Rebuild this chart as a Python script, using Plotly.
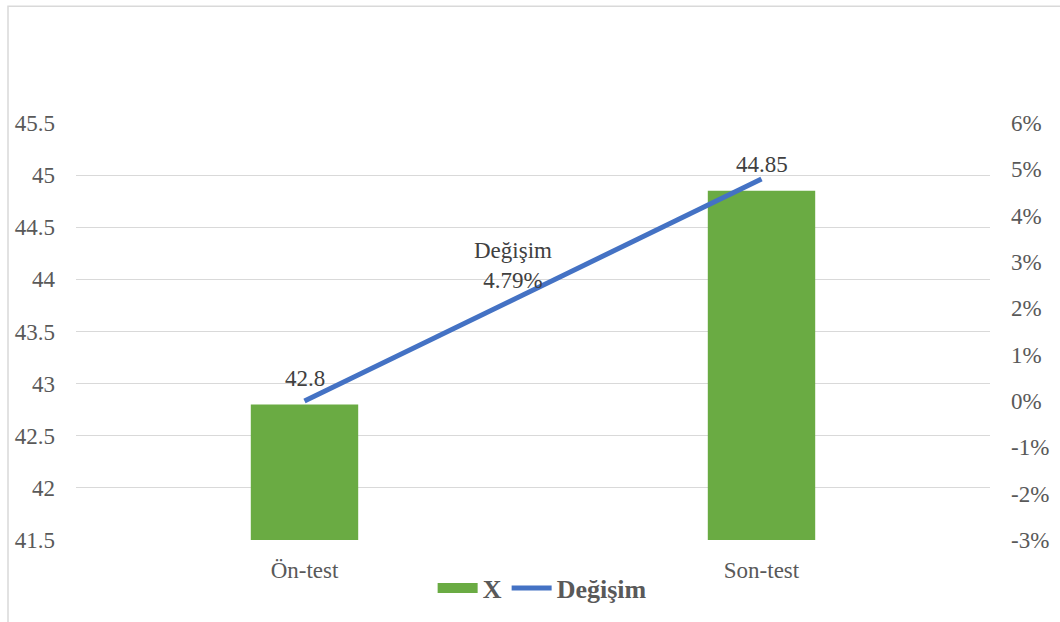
import plotly.graph_objects as go

# Test stages and their mean scores
categories = ["Ön-test", "Son-test"]
scores = [42.8, 44.85]
# Relative change (fraction) compared with the pre-test
change = [0.0, 0.0479]
change_label = "Değişim"

# Right-hand axis ticks (percent), written with a plain hyphen for negatives
pct_ticks = [-3, -2, -1, 0, 1, 2, 3, 4, 5, 6]
pct_tick_text = [f"{v}%" for v in pct_ticks]

W, H = 1060, 622
ML, MR, MT, MB = 76, 70, 123, 81
PW, PH = W - ML - MR, H - MT - MB

serif = "Liberation Serif, Times New Roman, serif"
tick_font = dict(family=serif, size=23, color="#595959")
label_font = dict(family=serif, size=23, color="#404040")
BAR_GREEN = "#6aab43"
LINE_BLUE = "#4472C4"

fig = go.Figure()

fig.add_trace(go.Bar(
    x=categories, y=scores, name="X", showlegend=False, legendgroup="x",
    marker=dict(color=BAR_GREEN, line=dict(width=0)),
    width=0.235,
))
# Legend key for the bars: a wide green block
fig.add_trace(go.Scatter(
    x=[None], y=[None], name="X", legendgroup="x", mode="lines",
    line=dict(color=BAR_GREEN, width=13),
))

fig.add_trace(go.Scatter(
    x=categories, y=change, name=change_label, yaxis="y2",
    mode="lines", line=dict(color=LINE_BLUE, width=5),
))

annotations = []
for c, v in zip(categories, scores):
    annotations.append(dict(
        x=c, y=v, xref="x", yref="y", text=f"{v:g}", showarrow=False,
        yshift=26, font=label_font,
    ))

# Change label placed along the line, between the two stages
annotations.append(dict(
    x=0.456, y=0.0292, xref="x", yref="y2",
    text=f"{change_label}<br>{change[1] * 100:.2f}%", showarrow=False,
    font=label_font, align="center",
))


def px_x(p):
    return (p - ML) / PW


def px_y(p):
    return (H - MB - p) / PH


fig.update_layout(
    width=W, height=H,
    margin=dict(l=ML, r=MR, t=MT, b=MB),
    paper_bgcolor="white", plot_bgcolor="white",
    bargap=0.765,
    showlegend=True,
    legend=dict(
        orientation="h", x=0.51, xanchor="center", y=px_y(588), yanchor="middle",
        font=dict(family=serif, size=26, color="#595959", weight="bold"),
        itemwidth=40, traceorder="normal",
    ),
    xaxis=dict(
        type="category", showgrid=False, showline=False, ticks="",
        tickfont=tick_font, range=[-0.5, 1.5], ticklabelstandoff=14,
    ),
    yaxis=dict(
        range=[41.5, 45.5], dtick=0.5, tick0=41.5, showgrid=True,
        gridcolor="#d9d9d9", gridwidth=1, zeroline=False, showline=False,
        tickfont=tick_font, ticklabelstandoff=20,
    ),
    yaxis2=dict(
        overlaying="y", side="right", range=[-0.03, 0.06],
        tickvals=[v / 100 for v in pct_ticks], ticktext=pct_tick_text,
        showgrid=False, zeroline=False,
        showline=False, tickfont=tick_font, ticklabelstandoff=20,
    ),
    annotations=annotations,
    shapes=[dict(
        type="rect", xref="paper", yref="paper",
        x0=px_x(8), x1=px_x(1075), y0=px_y(640), y1=px_y(6),
        line=dict(color="#d9d9d9", width=1.5), fillcolor="rgba(0,0,0,0)",
        layer="below",
    )],
)

fig.write_html("out.html")
